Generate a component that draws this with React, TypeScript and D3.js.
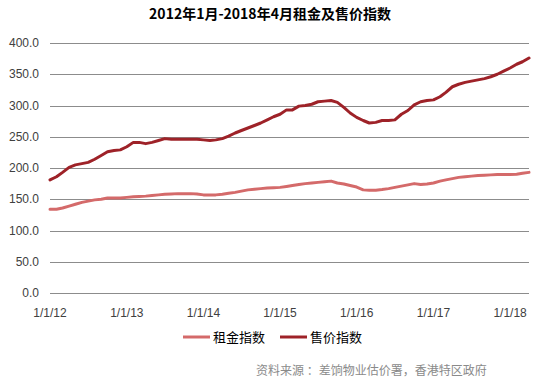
import React, { useEffect, useRef } from "react";
import * as d3 from "d3";

const title = "2012年1月-2018年4月租金及售价指数";
const seriesNames = ["租金指数", "售价指数"];
const seriesColors = ["#D46A6A", "#9E2228"];
const sourceText = "资料来源 ：差饷物业估价署，香港特区政府";

const yTicks = [0, 50, 100, 150, 200, 250, 300, 350, 400];
const xTickYears = [2012, 2013, 2014, 2015, 2016, 2017, 2018];

// Monthly values, Jan 2012 – Apr 2018
const rentIndex = [
  134, 134, 136, 139, 142, 145, 147, 149, 150, 152, 152, 152,
  153, 154, 154.5, 155, 156, 157, 158, 158.5, 159, 159, 159, 158.5,
  157, 157, 157, 158, 159.5, 161, 163, 165, 166, 167, 168, 168.5,
  169, 170.5, 172, 173.5, 175, 176, 177, 178, 179, 176, 174.5, 172,
  169.5, 165, 164.5, 164.5, 165.5, 167, 169, 171, 173, 175, 173.5, 174.5,
  176, 179, 181, 183, 185, 186, 187, 188, 188.5, 189, 189.5, 189.5,
  189.5, 190, 191.5, 193,
];
const priceIndex = [
  181, 186, 193, 201, 205, 207, 209, 214, 220, 226, 228, 229,
  234, 241, 241, 239, 241, 244, 247, 246, 246, 246, 246, 246,
  245, 244, 245, 247, 251, 256, 260, 264, 268, 272, 277, 282,
  286, 293, 293, 299, 300, 302, 306, 307, 308, 305, 297, 288,
  281, 276, 272, 273, 276, 276, 277, 286, 292, 301, 306, 308,
  309, 314, 321, 330, 334, 337, 339, 341, 343, 346, 350, 355,
  360, 366, 370, 376,
];

const W = 540;
const H = 385;
const M = { left: 50, right: 11, top: 43, bottom: 92 };

export default function App() {
  const ref = useRef<SVGSVGElement>(null);

  useEffect(() => {
    const svg = d3.select(ref.current);
    svg.selectAll("*").remove();

    const dates = rentIndex.map((_, i) => new Date(2012, i, 1));
    const x = d3
      .scaleTime()
      .domain([dates[0], dates[dates.length - 1]])
      .range([M.left, W - M.right]);
    const y = d3.scaleLinear().domain([0, 400]).range([H - M.bottom, M.top]);

    // gridlines
    const grid = svg.append("g");
    grid
      .selectAll("line")
      .data(yTicks)
      .join("line")
      .attr("x1", M.left)
      .attr("x2", W - M.right)
      .attr("y1", (d) => Math.round(y(d)) + 0.5)
      .attr("y2", (d) => Math.round(y(d)) + 0.5)
      .attr("stroke", "#8c8c8c")
      .attr("stroke-width", 1);

    // y labels
    svg
      .append("g")
      .selectAll("text")
      .data(yTicks)
      .join("text")
      .attr("x", 39)
      .attr("y", (d) => y(d))
      .attr("dy", "0.35em")
      .attr("text-anchor", "end")
      .attr("font-family", "'Liberation Sans', Arial, sans-serif")
      .attr("font-size", 12)
      .attr("fill", "#404040")
      .text((d) => d3.format(".1f")(d));

    // x labels
    svg
      .append("g")
      .selectAll("text")
      .data(xTickYears)
      .join("text")
      .attr("x", (d) => x(new Date(d, 0, 1)))
      .attr("y", H - M.bottom + 24)
      .attr("text-anchor", "middle")
      .attr("font-family", "'Liberation Sans', Arial, sans-serif")
      .attr("font-size", 12)
      .attr("fill", "#404040")
      .text((d) => `1/1/${String(d).slice(2)}`);

    const line = d3
      .line<number>()
      .x((_, i) => x(dates[i]))
      .y((d) => y(d));

    [rentIndex, priceIndex].forEach((s, k) => {
      svg
        .append("path")
        .datum(s)
        .attr("d", line)
        .attr("fill", "none")
        .attr("stroke", seriesColors[k])
        .attr("stroke-width", 3)
        .attr("stroke-linejoin", "round")
        .attr("stroke-linecap", "round");
    });

    // title
    svg
      .append("text")
      .attr("x", 270)
      .attr("y", 19)
      .attr("text-anchor", "middle")
      .attr("font-family", "'Noto Sans CJK SC', sans-serif")
      .attr("font-weight", "bold")
      .attr("font-size", 14)
      .attr("fill", "#000")
      .text(title);

    // legend
    const legendX = [183, 280];
    seriesNames.forEach((n, k) => {
      const g = svg.append("g");
      g.append("line")
        .attr("x1", legendX[k])
        .attr("x2", legendX[k] + 27)
        .attr("y1", 337)
        .attr("y2", 337)
        .attr("stroke", seriesColors[k])
        .attr("stroke-width", 3);
      g.append("text")
        .attr("x", legendX[k] + 30)
        .attr("y", 337)
        .attr("dy", "0.35em")
        .attr("font-family", "'Noto Sans CJK SC', sans-serif")
        .attr("font-size", 13)
        .attr("fill", "#000")
        .text(n);
    });

    // source
    svg
      .append("text")
      .attr("x", 256)
      .attr("y", 371)
      .attr("dy", "0.35em")
      .attr("font-family", "'Noto Sans CJK SC', sans-serif")
      .attr("font-size", 12)
      .attr("fill", "#8a8a8a")
      .text(sourceText);
  }, []);

  return (
    <svg
      ref={ref}
      width={W}
      height={H}
      style={{ position: "absolute", left: 0, top: 0, background: "#fff" }}
    />
  );
}
